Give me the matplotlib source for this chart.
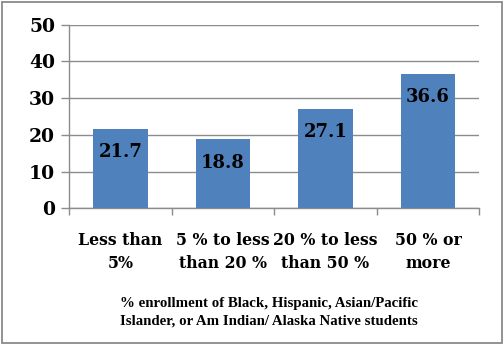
import matplotlib
matplotlib.use("Agg")
import matplotlib.pyplot as plt
from matplotlib.patches import Rectangle
from matplotlib.ticker import FixedLocator

categories = ["Less than\n5%", "5 % to less\nthan 20 %", "20 % to less\nthan 50 %", "50 % or\nmore"]
values = [21.7, 18.8, 27.1, 36.6]
y_ticks = [0, 10, 20, 30, 40, 50]
x_title = "% enrollment of Black, Hispanic, Asian/Pacific\nIslander, or Am Indian/ Alaska Native students"

bar_color = "#4F81BD"
grid_color = "#8C8C8C"
serif = ["DejaVu Serif"]

fig = plt.figure(figsize=(5.04, 3.46), dpi=100)
fig.patch.set_facecolor("white")
fig.add_artist(Rectangle((0.004, 0.008), 0.992, 0.986, transform=fig.transFigure,
                         fill=False, edgecolor="#8A8A8A", linewidth=1.3))

ax = fig.add_axes([0.137, 0.398, 0.814, 0.531])
x = range(len(values))
bars = ax.bar(x, values, width=0.53, color=bar_color, zorder=3)

ax.set_xlim(-0.5, len(values) - 0.5)
ax.set_ylim(0, 50)
ax.set_yticks(y_ticks)
ax.set_yticklabels([str(t) for t in y_ticks], fontsize=13.5, fontweight="bold", family=serif)
ax.set_xticks(list(x))
ax.set_xticklabels(categories, fontsize=11.3, fontweight="bold", family=serif, linespacing=1.5)
ax.xaxis.set_minor_locator(FixedLocator([i - 0.5 for i in range(len(values) + 1)]))
ax.tick_params(axis="x", which="major", length=0, pad=17)
ax.tick_params(axis="x", which="minor", length=5, color=grid_color, width=1)
ax.tick_params(axis="y", length=6, color=grid_color, width=1, pad=4)

ax.yaxis.grid(True, color=grid_color, linewidth=1, zorder=0)
ax.set_axisbelow(True)
for side in ["top", "right"]:
    ax.spines[side].set_visible(False)
for side in ["left", "bottom"]:
    ax.spines[side].set_color(grid_color)
    ax.spines[side].set_linewidth(1)

for b, v in zip(bars, values):
    ax.annotate(f"{v:.1f}", (b.get_x() + b.get_width() / 2, v), xytext=(0, -17),
                textcoords="offset points", ha="center", va="center",
                fontsize=13, fontweight="bold", family=serif, zorder=4)

fig.text(0.534, 0.097, x_title, ha="center", va="center", fontsize=10.7,
         family=["Liberation Serif"], fontweight="bold", linespacing=1.5)

fig.savefig("out.png", dpi=100, facecolor="white")
